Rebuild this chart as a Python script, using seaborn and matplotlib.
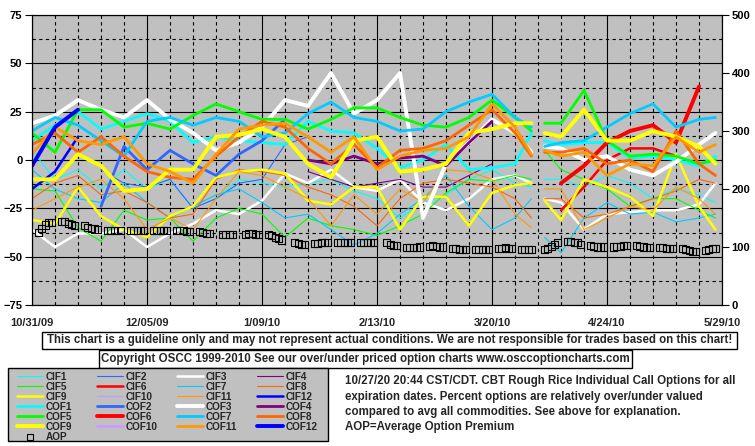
import pandas as pd
import seaborn as sns
import matplotlib.pyplot as plt
from matplotlib.lines import Line2D
from matplotlib.patches import Rectangle

sns.set_theme(style='white')
plt.rcParams['font.family'] = ['Liberation Sans', 'DejaVu Sans']
plt.rcParams['font.weight'] = 'bold'

N = None
start = pd.Timestamp('2009-10-31')

# days after 10/31/09 where the lines were read (154 = Good Friday, no data)
line_days = [0, 7, 14, 21, 28, 35, 42, 49, 56, 63, 70, 77, 84, 91, 98, 105,
             112, 119, 126, 133, 140, 147, 152, 154, 156, 161, 168, 175, 182,
             189, 196, 203, 208]

cif1 = [5, -10, -5, -15, -5, -15, -10, -25, -20, -10, -12, -14, -12, -10, -16, -20,
        -30, -22, -18, -10, -5, -12, -14, N, -10, -10, -14, -8, -12, -20, -15, -18, -22]
cif2 = [N, N, N, -5, -12, -14, -10, -25, -20, -12, -10, 8, 12] + [N] * 20
cif3 = [-36, -45, -38, -38, -36, -45, -38, -33, -26, -28, -21, -7, -12, -5, -14, -16,
        -10, -22, -26, -20, -10, -8, -12, N, -20, -22, -36, -28, -27, -26, -26, -23, -12]
cif4 = [N] * 12 + [-6, -10, -14, -12, -10, -14, -14, -8, -2] + [N] * 12
cif5 = [-15, -16, -35, -42, -26, -31, -30, -42, -30, -25, -28, -40, -30, -34, -36, -39,
        -34, -28, -17, -10, -11, -8, -10, N, 5, -5, -10, -15, -24, -20, -20, -26, -30]
cif6 = [N] * 25 + [-26, -14, 0, 6, 6, 2, N, N]
cif7 = [-5, -15, -20, -22, -12, -22, -30, -24, -18, -15, -22, -30, -28, -36, -44, -38,
        -28, -20, -8, -24, -36, -30, -20, N, -40, -48, -30, -22, -28, -27, -32, -30, -28]
cif8 = [-20, -12, -8, -18, -16, -22, -30, -28, -10, -5, -6, -8, -14, -18, -24, -34,
        -20, -12, -10, -12, -14, -20, -30, N, -20, -20, -30, -28, -24, -20, -16, -10, -12]
cif9 = [-31, -33, -14, -29, -36, -40, -29, -24, -9, -6, -5, -7, -21, -23, -14, -14,
        -36, -19, -19, -34, -17, -13, -12, N, -21, -31, -10, -14, -19, -29, 3, -24, -36]
cif10 = [N] * 33
cif11 = [-26, -20, -14, -10, -20, -36, -30, -36, -20, -6, -8, -14, -20, -34, -18, -28,
         -15, -22, -5, -6, -10, -28, -35, N, -15, -15, -36, -30, -24, -26, -14, -20, -28]
cif12 = [-15, -6, 12] + [N] * 30

cof1 = [10, 18, 25, 16, 20, 24, 20, 9, 12, 10, 9, 8, 20, 15, 14, 6,
        -4, 0, 8, -5, -4, -2, 14, N, 10, 8, 9, 9, 1, 2, 0, -3, 2]
cof2 = [N, N, N, -24, 7, -5, 5, -2, -8, 3, 10, 21] + [N] * 21
cof3 = [19, 23, 31, 26, 22, 31, 21, 14, 5, 9, 17, 31, 28, 45, 24, 31,
        45, -30, -2, 9, 21, 14, 4, N, 7, 6, 0, 2, -5, -8, -1, 8, 14]
cof4 = [N] * 12 + [0, -2, 2, -2, 1, 2, -3, 9, 20] + [N] * 12
cof5 = [14, 4, 26, 26, 17, 19, 16, 23, 29, 25, 21, 21, 16, 21, 27, 27,
        22, 18, 17, 22, 31, 22, 15, N, 19, 19, 36, 10, 2, 3, 2, -2, 0]
cof6 = [N] * 25 + [-12, -3, 9, 15, 18, 9, 38, N]
cof7 = [15, 22, 18, 10, 2, 20, 22, 18, 22, 20, 12, 14, 24, 30, 22, 20,
        15, 16, 25, 30, 34, 22, 17, N, 7, 9, 10, 17, 24, 29, 17, 21, 22]
cof8 = [8, 14, 4, 12, 2, -6, -9, -10, 2, 12, 20, 17, 6, -2, 8, -4,
        5, 6, 10, 18, 26, 14, 2, N, 4, 4, 6, -2, 0, -6, 15, -2, -8]
cof9 = [-10, -10, 3, -3, -16, -15, -5, -5, 12, 13, 16, 12, -2, -9, 10, 12,
        -6, -5, -2, 14, 16, 19, 19, N, 14, 12, 26, 10, 10, 15, 12, 7, -2]
cof10 = [N] * 33
cof11 = [3, 17, 10, 8, 12, -2, -6, -12, 3, 16, 18, 19, 12, 4, 12, -5,
         2, 5, 6, 12, 29, 17, 3, N, 5, 2, 4, -8, -2, -3, 12, 4, 8]
cof12 = [-3, 17, 26] + [N] * 30

# average option premium, one row per trading week starting 11/02/09
aop_weeks = [
    [125, 132, 138, 142, 143], [144, 144, 141, 139, 137], [137, 134, 132, 131, 130],
    [129, 129, 128, N, 128], [128, 129, 129, 129, 129], [129, 129, 128, 128, 128],
    [129, 129, 128, 127, 127], [127, 125, 124, 124, N], [122, 122, 122, 122, N],
    [122, 123, 123, 122, 122], [122, 120, 117, 114, 112], [N, 107, 106, 105, 105],
    [106, 106, 107, 107, 107], [108, 108, 108, 108, 108], [108, 108, 107, 107, 107],
    [N, 107, 105, 103, 102], [99, 99, 99, 99, 100], [101, 102, 101, 100, 100],
    [98, 97, 96, 96, 95], [95, 95, 95, 95, 95], [97, 98, 99, 98, 97],
    [96, 96, 96, 96, N], [95, 98, 101, 104, 107], [110, 110, 108, 107, 105],
    [102, 101, 100, 100, 100], [100, 101, 101, 102, 102], [102, 101, 100, 99, 99],
    [99, 99, 98, 98, 98], [97, 96, 94, 93, 92], [94, 96, 97, 98],
]

xtick_labels = ['10/31/09', '12/05/09', '1/09/10', '2/13/10', '3/20/10', '4/24/10', '5/29/10']

names = ['CIF1', 'CIF2', 'CIF3', 'CIF4', 'CIF5', 'CIF6', 'CIF7', 'CIF8', 'CIF9', 'CIF10',
         'CIF11', 'CIF12', 'COF1', 'COF2', 'COF3', 'COF4', 'COF5', 'COF6', 'COF7', 'COF8',
         'COF9', 'COF10', 'COF11', 'COF12']
values = [cif1, cif2, cif3, cif4, cif5, cif6, cif7, cif8, cif9, cif10, cif11, cif12,
          cof1, cof2, cof3, cof4, cof5, cof6, cof7, cof8, cof9, cof10, cof11, cof12]
month_colors = ['#00FFFF', '#3366FF', '#FFFFFF', '#800080', '#00FF00', '#FF0000',
                '#00CCFF', '#FF6600', '#FFFF00', '#CC99FF', '#FF9900', '#0000FF']


def style_of(i):
    month = i % 12 + 1
    big = month % 3 == 0
    if i < 12:
        lw = 1.8 if big else 0.8
    else:
        lw = 2.8 if big else 2.0
    return month_colors[i % 12], lw


def fx(px):
    return px / 755


def fy(py):
    return 1 - py / 446


def build_long():
    rows = []
    for name, vals in zip(names, values):
        seg = 0
        for d, v in zip(line_days, vals):
            if v is None:
                seg += 1
                continue
            rows.append((name, start + pd.Timedelta(days=d), v, seg))
    return pd.DataFrame(rows, columns=['series', 'date', 'value', 'seg'])


def main():
    df = build_long()
    fig = plt.figure(figsize=(7.55, 4.46), dpi=100, facecolor='white')
    ax = fig.add_axes([fx(32), fy(305), 690 / 755, 290 / 446])
    ax.set_facecolor('#C0C0C0')
    ax.set_axisbelow(True)

    for i, name in enumerate(names):
        sub = df[df['series'] == name]
        if sub.empty:
            continue
        color, lw = style_of(i)
        sns.lineplot(data=sub, x='date', y='value', units='seg', estimator=None,
                     sort=False, color=color, linewidth=lw, ax=ax, legend=False)

    ax.set_xlim(start, start + pd.Timedelta(days=210))
    ax.set_ylim(-75, 75)
    ax.set_xticks([start + pd.Timedelta(days=35 * k) for k in range(7)])
    ax.set_xticks([start + pd.Timedelta(days=7 * k) for k in range(31)], minor=True)
    ax.set_xticklabels(xtick_labels)
    ax.set_yticks(range(-75, 76, 25))
    ax.set_yticks([-62.5, -37.5, -12.5, 12.5, 37.5, 62.5], minor=True)
    ax.grid(True, which='major', color='black', linewidth=0.8, linestyle='-')
    ax.grid(True, which='minor', color='black', linewidth=0.8, linestyle=(0, (3, 3)))
    ax.tick_params(axis='x', which='both', length=0, pad=9, labelsize=8)
    ax.tick_params(axis='y', which='major', left=True, length=5, width=0.8,
                   direction='out', pad=2, labelsize=8, colors='black')
    ax.tick_params(axis='y', which='minor', length=0)
    ax.set_xlabel('')
    ax.set_ylabel('')

    ax2 = ax.twinx()
    aop_vals = [v for week in aop_weeks for v in week]
    aop_dates = pd.bdate_range('2009-11-02', periods=len(aop_vals))
    aop = pd.DataFrame({'date': aop_dates, 'aop': aop_vals}).dropna()
    sns.scatterplot(data=aop, x='date', y='aop', ax=ax2, marker='s', s=26,
                    facecolors='none', edgecolor='black', linewidth=0.8, legend=False)
    ax2.set_ylim(0, 500)
    ax2.set_yticks(range(0, 501, 100))
    ax2.tick_params(axis='y', right=True, length=5, width=0.8, direction='out',
                    pad=2, labelsize=8, colors='black')
    ax2.set_ylabel('')
    ax2.grid(False)
    for a in (ax, ax2):
        for sp in a.spines.values():
            sp.set_color('black')
            sp.set_linewidth(0.8)

    # text boxes under the chart
    fig.add_artist(Rectangle((fx(42), fy(349)), 695 / 755, 17 / 446, transform=fig.transFigure,
                             facecolor='white', edgecolor='black', linewidth=1))
    fig.text(fx(389.5), fy(340.5), 'This chart is a guideline only and may not represent actual '
             'conditions. We are not responsible for trades based on this chart!',
             ha='center', va='center', fontsize=8.3)
    fig.add_artist(Rectangle((fx(99), fy(368)), 533 / 755, 18 / 446, transform=fig.transFigure,
                             facecolor='white', edgecolor='black', linewidth=1))
    fig.text(fx(365.5), fy(359), 'Copyright OSCC 1999-2010 See our over/under priced option '
             'charts www.osccoptioncharts.com', ha='center', va='center', fontsize=8.3)

    # legend box, laid out row by row like the original
    fig.add_artist(Rectangle((fx(8), fy(441)), 320 / 755, 73 / 446, transform=fig.transFigure,
                             facecolor='#C0C0C0', edgecolor='black', linewidth=1))
    for i, name in enumerate(names):
        color, lw = style_of(i)
        r, c = divmod(i, 4)
        y = 376 + 10 * r
        fig.add_artist(Line2D([fx(17 + 80 * c), fx(43 + 80 * c)], [fy(y), fy(y)],
                              transform=fig.transFigure, color=color, linewidth=lw))
        fig.text(fx(46 + 80 * c), fy(y + 0.5), name, ha='left', va='center', fontsize=7.2)
    fig.add_artist(Line2D([fx(30)], [fy(437)], transform=fig.transFigure, marker='s',
                          markersize=5, markerfacecolor='none', markeredgecolor='black',
                          markeredgewidth=0.8, linestyle='none'))
    fig.text(fx(46), fy(437), 'AOP', ha='left', va='center', fontsize=7.2)

    notes = ['10/27/20 20:44 CST/CDT. CBT Rough Rice Individual Call Options for all',
             'expiration dates. Percent options are relatively over/under valued',
             'compared to avg all commodities. See above for explanation.',
             'AOP=Average Option Premium']
    for line, y in zip(notes, [381, 397, 412, 427]):
        fig.text(fx(345), fy(y), line, ha='left', va='center', fontsize=8.3)

    fig.savefig('out.png', dpi=100)


if __name__ == '__main__':
    main()
